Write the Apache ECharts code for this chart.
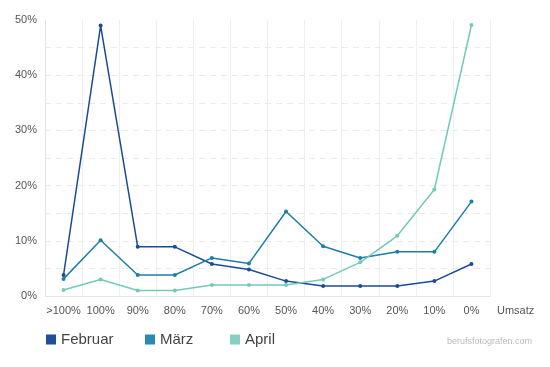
<!DOCTYPE html>
<html><head><meta charset="utf-8">
<script src="https://cdn.jsdelivr.net/npm/echarts@6/dist/echarts.min.js"></script>
<style>html,body{margin:0;padding:0;background:#fff}#c{width:550px;height:367px}</style>
</head><body><div id="c"></div>
<script>
var categories = ['>100%','100%','90%','80%','70%','60%','50%','40%','30%','20%','10%','0%'];
var februar = [3.8, 49, 8.9, 8.9, 5.8, 4.8, 2.7, 1.8, 1.8, 1.8, 2.7, 5.8];
var maerz   = [3.1, 10.1, 3.8, 3.8, 6.9, 5.9, 15.3, 9.0, 6.9, 8.0, 8.0, 17.1];
var april   = [1.1, 3.0, 1.0, 1.0, 2.0, 2.0, 2.0, 3.0, 6.1, 10.9, 19.3, 49.1];
var seriesNames = ['Februar','März','April'];
var lineColors = ['#1b4b96','#1d7ea6','#74c9b7'];
var legendColors = ['#1f4f9a','#2a89b2','#86cfc1'];
var legendLefts = [41, 140, 225];
var font = 'Liberation Sans, Arial, sans-serif';

var splitColors = [];
for (var k = 0; k < 10; k++) splitColors.push('#eaeaea');
splitColors.push('rgba(0,0,0,0)');

var chart = echarts.init(document.getElementById('c'));
var data = [februar, maerz, april];
chart.setOption({
  animation: false,
  textStyle: {fontFamily: font},
  grid: {left: 45, right: 60, top: 20, bottom: 71},
  legend: seriesNames.map(function(n,i){
    return {left: legendLefts[i], top: 327, icon: 'rect', itemWidth: 10, itemHeight: 10,
      textStyle: {fontSize: 15, color: '#444', fontFamily: font},
      data: [{name:n, itemStyle:{color: legendColors[i]}}]};
  }),
  graphic: [{type:'text', right: 18, top: 337, style:{text:'berufsfotografen.com', fill:'#bbb', font:'9px ' + font}}],
  xAxis: {
    type: 'category', data: categories, boundaryGap: true,
    name: 'Umsatz', nameLocation: 'end', nameGap: 7,
    nameTextStyle: {color:'#555', fontSize: 11, verticalAlign: 'top', padding:[9,0,0,0]},
    axisLine: {lineStyle:{color:'#e3e3e3'}}, axisTick: {show:false},
    axisLabel: {color:'#555', fontSize: 11, margin: 9, interval: 0},
    splitLine: {show:true, interval: 0, lineStyle:{color:'#eeeeee', width:1}}
  },
  yAxis: {
    type: 'value', min: 0, max: 50, interval: 5,
    axisLine: {show:true, lineStyle:{color:'#e3e3e3'}}, axisTick:{show:false},
    axisLabel: {color:'#555', fontSize: 11, margin: 8, formatter: function(v){return v % 10 === 0 ? v + '%' : '';}},
    splitLine: {show:true, lineStyle:{color:splitColors, type:[6,5], width:1}}
  },
  series: seriesNames.map(function(n,i){
    return {name:n, type:'line', data:data[i], symbol:'circle', symbolSize:4,
      lineStyle:{color:lineColors[i], width:1.5}, itemStyle:{color:lineColors[i]}};
  })
});
</script></body></html>
